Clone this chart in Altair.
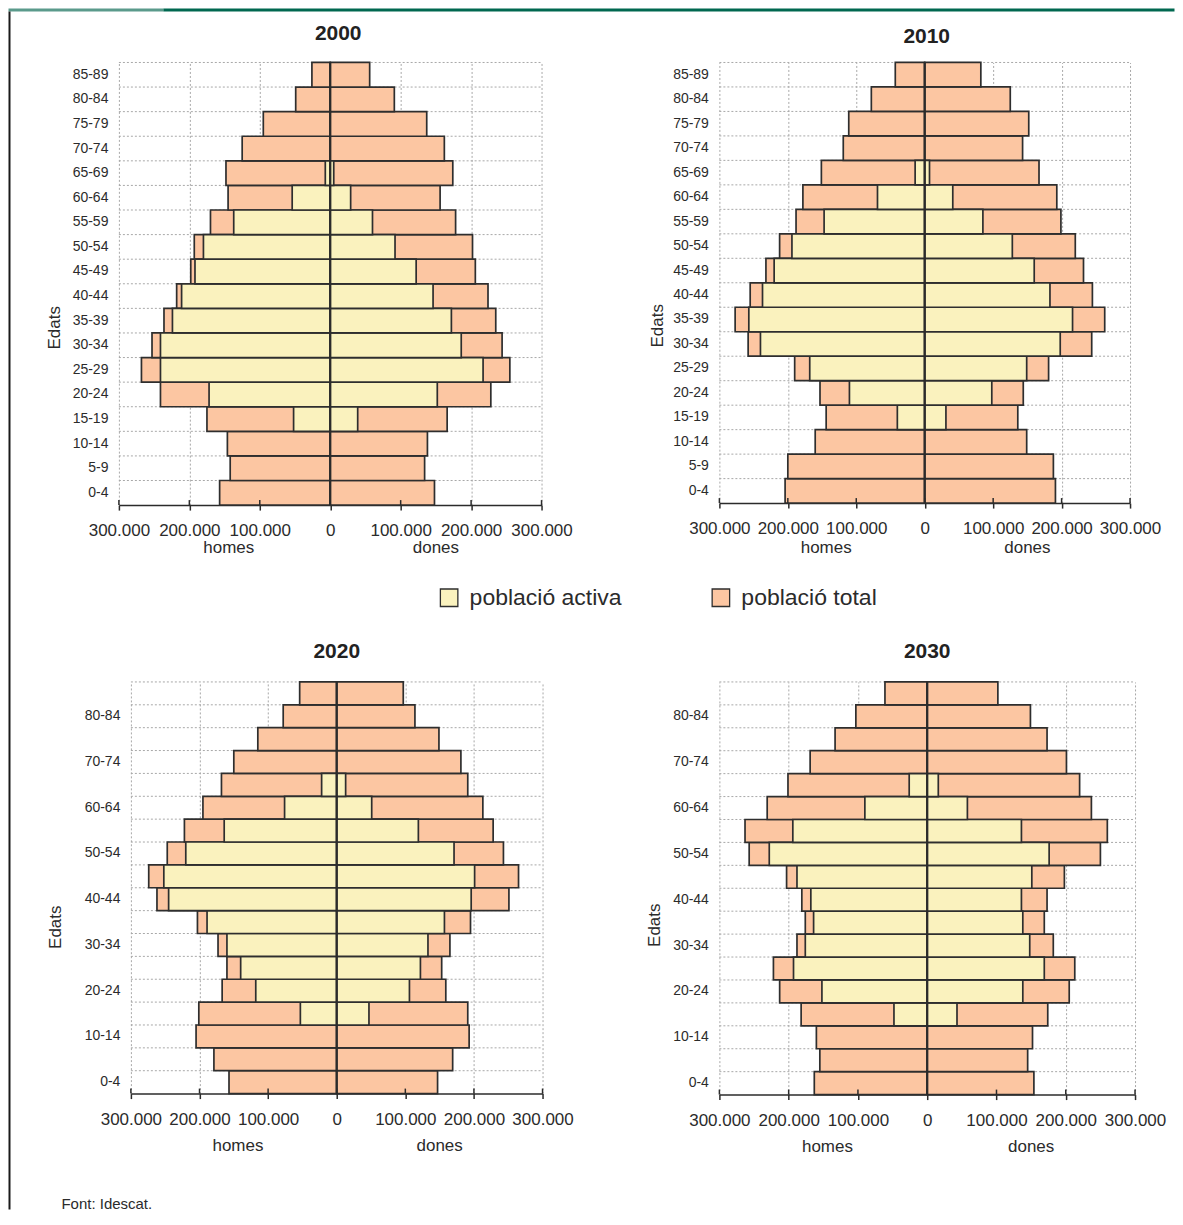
import altair as alt
import pandas as pd

FONT = "Liberation Sans"
TXT = "#2b2b2b"
AX = "#2b2b2b"
GRID = "#a8a8a8"
STROKE = "#2e2e2e"
C_ACT = "#FAF2BE"
C_TOT = "#FCC6A2"
TEAL = "#5A9A8B"
DKGREEN = "#006850"

S_ACT = "població activa"
S_TOT = "població total"

AGES = ["0-4", "5-9", "10-14", "15-19", "20-24", "25-29", "30-34", "35-39", "40-44",
        "45-49", "50-54", "55-59", "60-64", "65-69", "70-74", "75-79", "80-84", "85-89"]
AGES_TOP = AGES[::-1]
EVEN_LABELS = ["0-4", "10-14", "20-24", "30-34", "40-44", "50-54", "60-64", "70-74", "80-84"]

TICKS = [-300000, -200000, -100000, 0, 100000, 200000, 300000]
SIDE_LABELS = ["homes", "dones"]
SIDE_X = [-144000, 150000]

# ---- 2000 ----
TOT_M_2000 = [157000, 142000, 146000, 175000, 241000, 268000, 253000, 236000, 218000,
              198000, 193000, 170000, 145000, 148000, 125000, 95000, 49000, 26000]
TOT_F_2000 = [148000, 134000, 138000, 166000, 228000, 255000, 244000, 235000, 224000,
              206000, 202000, 178000, 156000, 174000, 162000, 137000, 91000, 56000]
ACT_M_2000 = [0, 0, 0, 52000, 172000, 241000, 241000, 224000, 211000,
              192000, 180000, 137000, 54000, 7000, 0, 0, 0, 0]
ACT_F_2000 = [0, 0, 0, 39000, 152000, 217000, 186000, 172000, 146000,
              122000, 92000, 60000, 29000, 5000, 0, 0, 0, 0]

# ---- 2010 ----
TOT_M_2010 = [204000, 200000, 160000, 144000, 153000, 190000, 258000, 277000, 255000,
              232000, 212000, 188000, 178000, 151000, 119000, 111000, 78000, 43000]
TOT_F_2010 = [191000, 188000, 149000, 136000, 144000, 181000, 244000, 263000, 245000,
              232000, 220000, 199000, 193000, 167000, 143000, 152000, 125000, 82000]
ACT_M_2010 = [0, 0, 0, 40000, 110000, 168000, 240000, 257000, 237000,
              220000, 194000, 147000, 69000, 14000, 0, 0, 0, 0]
ACT_F_2010 = [0, 0, 0, 31000, 98000, 149000, 198000, 216000, 183000,
              160000, 128000, 85000, 41000, 7000, 0, 0, 0, 0]

# ---- 2020 ----
TOT_M_2020 = [157000, 179000, 205000, 201000, 167000, 160000, 173000, 203000, 262000,
              274000, 247000, 222000, 195000, 168000, 150000, 115000, 78000, 54000]
TOT_F_2020 = [147000, 169000, 193000, 191000, 159000, 153000, 165000, 195000, 251000,
              265000, 243000, 228000, 213000, 191000, 181000, 149000, 114000, 97000]
ACT_M_2020 = [0, 0, 0, 53000, 118000, 140000, 160000, 189000, 245000,
              252000, 220000, 164000, 76000, 22000, 0, 0, 0, 0]
ACT_F_2020 = [0, 0, 0, 47000, 106000, 122000, 133000, 157000, 196000,
              201000, 171000, 119000, 51000, 13000, 0, 0, 0, 0]

# ---- 2030 ----
TOT_M_2030 = [163000, 155000, 160000, 182000, 213000, 222000, 188000, 176000, 181000,
              203000, 257000, 263000, 231000, 201000, 169000, 133000, 103000, 61000]
TOT_F_2030 = [154000, 145000, 152000, 174000, 205000, 213000, 182000, 169000, 173000,
              198000, 250000, 260000, 237000, 220000, 201000, 173000, 149000, 102000]
ACT_M_2030 = [0, 0, 0, 48000, 152000, 193000, 176000, 164000, 168000,
              188000, 228000, 194000, 90000, 26000, 0, 0, 0, 0]
ACT_F_2030 = [0, 0, 0, 43000, 138000, 169000, 148000, 138000, 136000,
              151000, 176000, 136000, 58000, 16000, 0, 0, 0, 0]


def build_frames(tot_m, tot_f, act_m, act_f):
    trows, arows = [], []
    for i, a in enumerate(AGES):
        trows.append(dict(age=a, serie=S_TOT, value=-tot_m[i]))
        trows.append(dict(age=a, serie=S_TOT, value=tot_f[i]))
        if act_m[i] > 0:
            arows.append(dict(age=a, serie=S_ACT, value=-act_m[i]))
        if act_f[i] > 0:
            arows.append(dict(age=a, serie=S_ACT, value=act_f[i]))
    t = pd.DataFrame(trows)
    t["zero"] = 0
    a = pd.DataFrame(arows)
    a["zero"] = 0
    return t, a


def panel(year, tot_m, tot_f, act_m, act_f, W, H, cfg, legend=None):
    tot, act = build_frames(tot_m, tot_f, act_m, act_f)
    shift = cfg.get("shift", 0)
    if shift:
        xscale = alt.Scale(domain=[TICKS[0], TICKS[-1]], nice=False, zero=False,
                           range=[shift, shift + W])
    else:
        xscale = alt.Scale(domain=[TICKS[0], TICKS[-1]], nice=False, zero=False)
    xaxis = alt.Axis(
        values=TICKS, title=None,
        labelExpr="datum.value == 0 ? '0' : replace(format(abs(datum.value), ','), ',', '.')",
        labelFontSize=17, labelColor=TXT, labelFont=FONT,
        labelPadding=cfg["xlabpad"], labelBaseline="alphabetic",
        labelFlush=False, labelOverlap=False,
        tickSize=5, tickColor=AX, tickWidth=1.5,
        domainColor=AX, domainWidth=1.5,
        grid=True, gridColor=GRID, gridDash=[2, 2], gridWidth=1,
    )
    if cfg["all_labels"]:
        ylabexpr = "datum.label"
    else:
        ylabexpr = "indexof(" + str(EVEN_LABELS) + ", datum.value) >= 0 ? datum.label : ''"
    yaxis_kw = dict(
        title="Edats", titleFontSize=17, titleFontWeight="normal", titleColor=TXT,
        titleFont=FONT, titlePadding=cfg["tpad"], titleY=cfg["ty"],
        labelFontSize=14, labelColor=TXT, labelFont=FONT, labelPadding=11,
        labelExpr=ylabexpr, ticks=False, domain=False, grid=False,
    )
    if shift:
        yaxis_kw["offset"] = -shift
    yaxis = alt.Axis(**yaxis_kw)
    yscale = alt.Scale(domain=AGES_TOP, paddingInner=0, paddingOuter=0)
    fscale = alt.Scale(domain=[S_ACT, S_TOT], range=[C_ACT, C_TOT])

    def X(field="value:Q"):
        return alt.X(field, scale=xscale, axis=xaxis)

    def Y(**kw):
        return alt.Y("age:N", scale=yscale, axis=yaxis, **kw)

    hgrid_df = pd.DataFrame({"age": AGES, "lo": TICKS[0], "hi": TICKS[-1]})
    hgrid = alt.Chart(hgrid_df).mark_rule(color=GRID, strokeDash=[2, 2], strokeWidth=1).encode(
        x=X("lo:Q"), x2="hi:Q", y=Y(bandPosition=0)
    )
    bars_t = alt.Chart(tot).mark_bar(stroke=STROKE, strokeWidth=1.7).encode(
        x=X(), x2="zero:Q", y=Y(),
        fill=alt.Fill("serie:N", scale=fscale, legend=legend),
    )
    bars_a = alt.Chart(act).mark_bar(stroke=STROKE, strokeWidth=1.7).encode(
        x=X(), x2="zero:Q", y=Y(),
        fill=alt.Fill("serie:N", scale=fscale, legend=legend),
    )
    center = alt.Chart(pd.DataFrame({"value": [0]})).mark_rule(color=AX, strokeWidth=2.2).encode(x=X())
    upticks = alt.Chart(pd.DataFrame({"value": TICKS})).mark_rule(color=AX, strokeWidth=1.5).encode(
        x=X(), y=alt.value(H - 5), y2=alt.value(H)
    )
    side = alt.Chart(pd.DataFrame({"value": SIDE_X, "label": SIDE_LABELS})).mark_text(
        fontSize=17, baseline="alphabetic", color=TXT, font=FONT
    ).encode(x=X(), y=alt.value(H + cfg["side"]), text="label:N")

    title = alt.TitleParams(
        text=year, fontSize=21, fontWeight="bold", font=FONT, color="#222222",
        anchor="middle", frame="group", baseline="alphabetic",
        offset=cfg["toff"], dx=cfg.get("tdx", 0), dy=cfg["tdy"],
    )
    return alt.layer(hgrid, bars_t, bars_a, center, upticks, side).properties(
        width=W + shift, height=H, title=title)


legend_def = alt.Legend(
    title=None, orient="none", legendX=319, legendY=524, direction="horizontal", columns=2,
    symbolType="square", symbolSize=306, symbolStrokeColor=STROKE, symbolStrokeWidth=1.3,
    labelFontSize=23, labelColor=TXT, labelFont=FONT, labelOffset=9, columnPadding=87,
    labelLimit=400, padding=0,
)

p2000 = panel("2000", TOT_M_2000, TOT_F_2000, ACT_M_2000, ACT_F_2000, 423, 443,
              dict(xlabpad=25, all_labels=True, tpad=9, ty=265, side=48, toff=23, tdx=8, tdy=23),
              legend=legend_def)
p2010 = panel("2010", TOT_M_2010, TOT_F_2010, ACT_M_2010, ACT_F_2010, 411, 441,
              dict(xlabpad=25, all_labels=True, tpad=6, ty=263, side=50, toff=20, tdx=2, tdy=23))
p2020 = panel("2020", TOT_M_2020, TOT_F_2020, ACT_M_2020, ACT_F_2020, 412, 412,
              dict(xlabpad=26, all_labels=False, tpad=20, ty=245, side=57, toff=22, tdx=6, tdy=20.5,
                   shift=12))
p2030 = panel("2030", TOT_M_2030, TOT_F_2030, ACT_M_2030, ACT_F_2030, 416, 413,
              dict(xlabpad=26, all_labels=False, tpad=9, ty=243, side=57, toff=22, tdy=20.5))

one = pd.DataFrame({"k": [0]})


def spacer(w):
    return alt.Chart(one).mark_point(opacity=0).encode(
        x=alt.value(0), y=alt.value(0)
    ).properties(width=w, height=1)


# page frame decorations (header band, left rule, source note)
teal = alt.Chart(one).mark_rect(color=TEAL).encode(
    x=alt.value(-10.5), x2=alt.value(144.5), y=alt.value(-54), y2=alt.value(-51))
dark = alt.Chart(one).mark_rect(color=DKGREEN).encode(
    x=alt.value(144.5), x2=alt.value(1156.5), y=alt.value(-54), y2=alt.value(-51))
leftline = alt.Chart(one).mark_rect(color="#1a1a1a").encode(
    x=alt.value(-10.5), x2=alt.value(-8.5), y=alt.value(-51), y2=alt.value(1148))
footer = alt.Chart(one).mark_text(
    align="left", baseline="alphabetic", fontSize=15, color=TXT, font=FONT
).encode(x=alt.value(42.5), y=alt.value(1148), text=alt.value("Font: Idescat."))
spA = alt.layer(teal, dark, leftline, footer).properties(width=100, height=1)

chart = alt.concat(
    spA, p2000, spacer(177), p2010,
    spacer(100), p2020, spacer(177), p2030,
    columns=4, spacing={"row": 177, "column": 0}, bounds="flush",
).resolve_scale(fill="independent").resolve_legend(fill="independent").properties(
    padding=0, background="white"
).configure_view(stroke=None).configure_axis(
    labelFont=FONT, titleFont=FONT
).configure_title(font=FONT).configure_legend(labelFont=FONT).configure_text(font=FONT)

chart.save("out.html", embed_options={"renderer": "svg", "actions": False})
